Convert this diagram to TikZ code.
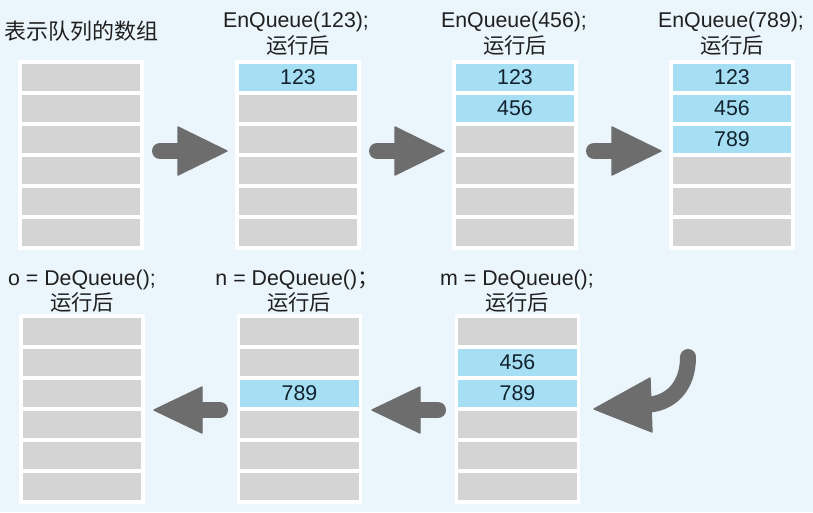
\documentclass[tikz,border=0pt]{standalone}
\usepackage{fontspec}
\setmainfont{Liberation Sans}
\newfontfamily\cjk{Noto Sans CJK SC}
\definecolor{bg}{HTML}{EAF5FC}
\definecolor{cellgray}{HTML}{D4D4D4}
\definecolor{cellblue}{HTML}{A6DEF4}
\definecolor{arrowgray}{HTML}{6D6D6D}
\definecolor{numcol}{HTML}{12222E}
\definecolor{txtcol}{HTML}{202020}
\tikzset{
  cell/.style={draw=white, line width=2.4pt, fill=cellgray, minimum width=91.5pt, minimum height=23.25pt, inner sep=0pt, anchor=center},
  bcell/.style={cell, fill=cellblue, text=numcol, font=\fontsize{16}{19}\selectfont},
  lbl/.style={anchor=base, text=txtcol, font=\fontsize{16}{19}\selectfont, inner sep=0pt},
  cjklbl/.style={lbl, font=\fontsize{16}{19}\selectfont\cjk},
  blockshaft/.style={draw=arrowgray, line width=12pt, line cap=round},
  blockhead/.style={fill=arrowgray, draw=arrowgray, line width=1pt, line join=round}
}
\begin{document}
\begin{tikzpicture}[x=0.75pt,y=-0.75pt]
\fill[bg] (0,0) rectangle (813,512);
\useasboundingbox (0,0) rectangle (813,512);

% ---------- top row ----------
% array 1
\foreach \i in {0,...,5} \node[cell] (a\i) at (81, 77.5+31*\i) {};
% array 2
\node[bcell] (b0) at (298, 77.5) {123};
\foreach \i in {1,...,5} \node[cell] (b\i) at (298, 77.5+31*\i) {};
% array 3
\node[bcell] (c0) at (515, 77.5) {123};
\node[bcell] (c1) at (515, 108.5) {456};
\foreach \i in {2,...,5} \node[cell] (c\i) at (515, 77.5+31*\i) {};
% array 4
\node[bcell] (d0) at (732, 77.5) {123};
\node[bcell] (d1) at (732, 108.5) {456};
\node[bcell] (d2) at (732, 139.5) {789};
\foreach \i in {3,...,5} \node[cell] (d\i) at (732, 77.5+31*\i) {};

% ---------- bottom row ----------
% array o
\foreach \i in {0,...,5} \node[cell] (e\i) at (82, 331.5+31*\i) {};
% array n
\foreach \i in {0,1,3,4,5} \node[cell] (f\i) at (299.5, 331.5+31*\i) {};
\node[bcell] (f2) at (299.5, 393.5) {789};
% array m
\foreach \i in {0,3,4,5} \node[cell] (g\i) at (517.5, 331.5+31*\i) {};
\node[bcell] (g1) at (517.5, 362.5) {456};
\node[bcell] (g2) at (517.5, 393.5) {789};

% ---------- labels ----------
\node[cjklbl, anchor=base west, font=\fontsize{16.5}{19}\selectfont\cjk] (t1) at (4, 39) {表示队列的数组};
\node[lbl] (t2) at (296, 27) {EnQueue(123);};
\node[cjklbl] (t2b) at (298, 53) {运行后};
\node[lbl] (t3) at (514, 27) {EnQueue(456);};
\node[cjklbl] (t3b) at (515, 53) {运行后};
\node[lbl] (t4) at (731, 27) {EnQueue(789);};
\node[cjklbl] (t4b) at (732, 53) {运行后};
\node[lbl] (t5) at (82, 285) {o = DeQueue();};
\node[cjklbl] (t5b) at (82, 310) {运行后};
\node[lbl] (t6) at (297, 285) {n = DeQueue()\cjk；};
\node[cjklbl] (t6b) at (299, 310) {运行后};
\node[lbl] (t7) at (517, 285) {m = DeQueue();};
\node[cjklbl] (t7b) at (517, 310) {运行后};

% ---------- block arrows ----------
\foreach \s in {0,217,434} {
  \draw[blockshaft] (160+\s,151) -- (186+\s,151);
  \filldraw[blockhead] (178+\s,127) -- (227+\s,151) -- (178+\s,175) -- cycle;
}
\foreach \s in {0,218} {
  \draw[blockshaft] (220+\s,410) -- (195+\s,410);
  \filldraw[blockhead] (202+\s,387) -- (154+\s,410) -- (202+\s,433) -- cycle;
}
% curved arrow
\draw[blockshaft] (643,405) .. controls (672,405) and (688,385) .. (688,357);
\filldraw[blockhead] (650,378) -- (594,409) -- (652,432) -- cycle;
\end{tikzpicture}
\end{document}
